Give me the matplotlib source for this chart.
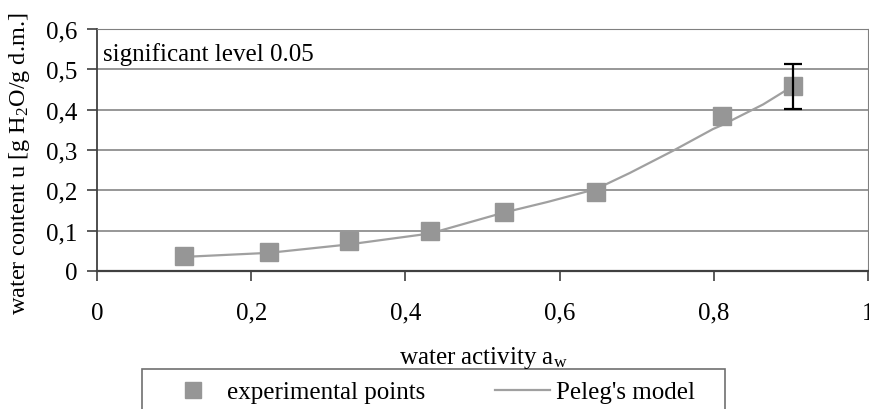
import numpy as np
import matplotlib
matplotlib.use("Agg")
import matplotlib.pyplot as plt
from matplotlib.patches import Rectangle
from matplotlib.lines import Line2D

plt.rcParams['font.family'] = ['Liberation Serif', 'DejaVu Serif']
plt.rcParams['mathtext.fontset'] = 'custom'
plt.rcParams['mathtext.rm'] = 'Liberation Serif'
plt.rcParams['mathtext.it'] = 'Liberation Serif:italic'

# experimental points (water activity, water content)
aw_exp = [0.113, 0.223, 0.327, 0.432, 0.528, 0.647, 0.811, 0.903]
u_exp = [0.037, 0.048, 0.074, 0.099, 0.147, 0.197, 0.385, 0.458]
# error bar only on the last point
err_exp = [0, 0, 0, 0, 0, 0, 0, 0.056]

# Peleg's model curve
aw_model = [0.113, 0.223, 0.327, 0.432, 0.528, 0.584, 0.647, 0.691, 0.747, 0.799, 0.811, 0.864, 0.903]
u_model = [0.035, 0.045, 0.066, 0.093, 0.145, 0.171, 0.203, 0.243, 0.298, 0.352, 0.362, 0.413, 0.459]

xticks = [0, 0.2, 0.4, 0.6, 0.8, 1]
yticks = [0, 0.1, 0.2, 0.3, 0.4, 0.5, 0.6]

grey = '#969696'
fs = 18

fig = plt.figure(figsize=(8.69, 4.10), dpi=100)
ax = fig.add_axes([97/869, 1-272/410, 771/869, 242/410])

ax.plot(aw_model, u_model, color='#a0a0a0', lw=1.6, zorder=3)
ax.plot(aw_exp, u_exp, ls='none', marker='s', ms=13.5, color=grey,
        mec=grey, zorder=4)
# error bar (only the last point has one)
yerr = np.array(err_exp)
mask = yerr > 0
ax.errorbar(np.array(aw_exp)[mask], np.array(u_exp)[mask], yerr=yerr[mask],
            fmt='none', ecolor='black', elinewidth=1.6, capsize=6.5,
            capthick=1.6, zorder=5)

ax.set_xlim(0, 1)
ax.set_ylim(0, 0.6)
ax.set_xticks(xticks)
ax.set_yticks(yticks)
ax.set_xticklabels([str(t).replace('.', ',') for t in xticks], fontsize=fs)
ax.set_yticklabels([str(t).replace('.', ',') for t in yticks], fontsize=fs)
ax.tick_params(axis='x', length=7, width=1.2, color='#404040', pad=15)
ax.tick_params(axis='y', length=7, width=1.2, color='#404040', pad=7)

ax.grid(axis='y', color='#7a7a7a', lw=1.1)
ax.set_axisbelow(True)
ax.spines['left'].set_color('#404040')
ax.spines['left'].set_linewidth(1.3)
ax.spines['bottom'].set_color('#404040')
ax.spines['bottom'].set_linewidth(1.6)
ax.spines['top'].set_color('#808080')
ax.spines['right'].set_color('#808080')

ax.text(0.008, 0.538, 'significant level 0.05', fontsize=fs, va='center', ha='left')

fig.text(483/869, 1-358/410, r'water activity a$_\mathrm{w}$', fontsize=fs,
         ha='center', va='center')
fig.text(20/869, 1-164/410, r'water content u [g H$_2$O/g d.m.]', fontsize=17.5,
         ha='center', va='center', rotation=90)

# legend, box runs off the bottom of the picture
fig.patches.append(Rectangle((142/869, -0.1), (725-142)/869, 0.1+1-370/410,
                             transform=fig.transFigure, fill=False,
                             edgecolor='#707070', lw=1.2))
h1 = Line2D([], [], ls='none', marker='s', ms=11.5, color=grey)
h2 = Line2D([], [], color='#a0a0a0', lw=1.6)
fig.legend([h1, h2], ['experimental points', "Peleg's model"], ncol=2,
           loc='center left', bbox_to_anchor=(143/869, 1-393/410),
           frameon=False, fontsize=fs, handlelength=2.2, columnspacing=2.8,
           handletextpad=0.25)

fig.savefig('out.png', dpi=100)
